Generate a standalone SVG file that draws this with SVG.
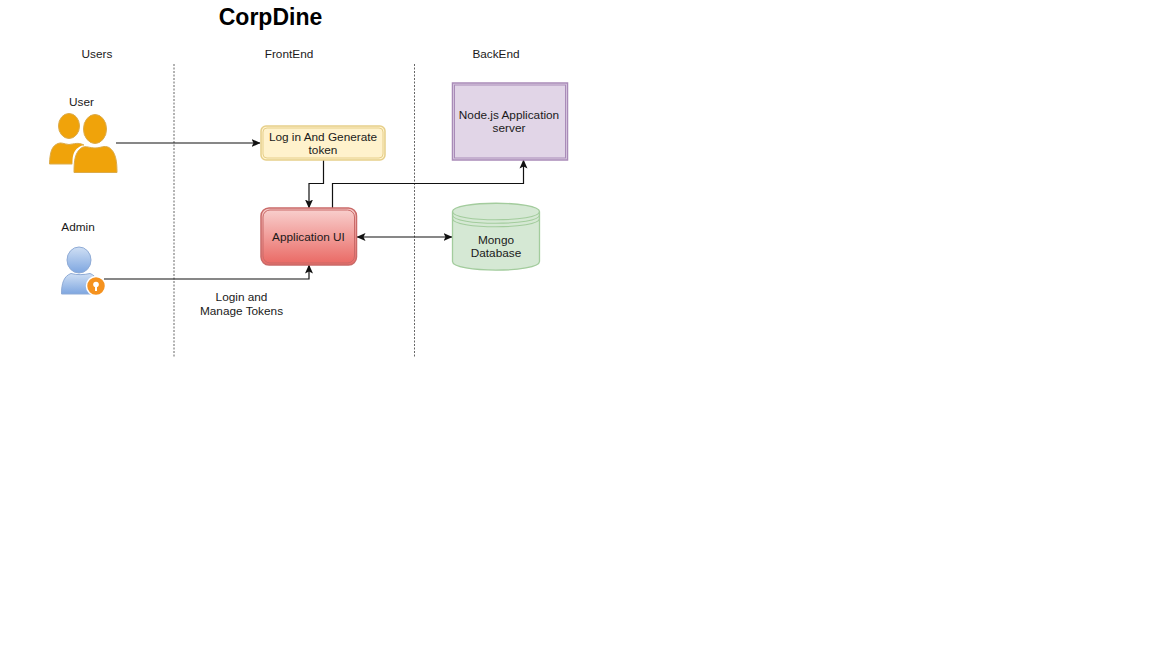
<svg xmlns="http://www.w3.org/2000/svg" width="1152" height="648" viewBox="0 0 1152 648">
<style>
text{font-family:"Liberation Sans",Arial,sans-serif;font-size:11.8px;fill:#1a1a1a;text-anchor:middle}
.title{font-size:23px;font-weight:bold;fill:#000}
.c{fill:none;stroke:#111;stroke-width:1.2}
.d{fill:none;stroke:#666;stroke-width:1;stroke-dasharray:2 1.5}
.u{fill:#f0a30a;stroke:#dcab4a;stroke-width:1}
</style>
<defs>
<marker id="a" viewBox="0 0 9 9" refX="8.500" refY="4.500" markerWidth="9" markerHeight="9" markerUnits="userSpaceOnUse" orient="auto-start-reverse"><path d="M0 0.500L9 4.500L0 8.500L2 4.500Z" fill="#111"/></marker>
<linearGradient id="r" x1="0" y1="0" x2="0" y2="1"><stop offset="0" stop-color="#f8cecc"/><stop offset="1" stop-color="#ea6b66"/></linearGradient>
<linearGradient id="b" x1="0" y1="0" x2="0" y2="1"><stop offset="0" stop-color="#cfdff4"/><stop offset="1" stop-color="#7ea6e0"/></linearGradient>
</defs>
<rect width="1152" height="648" fill="#fff"/>
<text class="title" x="270.500" y="24.500">CorpDine</text>
<text x="97" y="58">Users</text>
<text x="289" y="58">FrontEnd</text>
<text x="496" y="58">BackEnd</text>
<path class="d" d="M174 64V357M414.500 64V357"/>
<g id="connectors">
<path class="c" marker-end="url(#a)" d="M116 143H260"/>
<path class="c" marker-end="url(#a)" d="M323.500 160V183.500H309V208"/>
<path class="c" marker-end="url(#a)" d="M332.500 208V183.500H523.500V160"/>
<path class="c" marker-start="url(#a)" marker-end="url(#a)" d="M357 237H452"/>
<path class="c" marker-end="url(#a)" d="M104 279H309V265"/>
</g>
<text x="241.500" y="301">Login and</text>
<text x="241.500" y="315">Manage Tokens</text>
<g id="user">
<text x="81.500" y="106">User</text>
<ellipse class="u" cx="69" cy="126" rx="10.500" ry="12.500"/>
<path class="u" d="M49.500 164C50 151 52 146 58 143.500C61 142 64 144 69 144.500C74 144 78 142 84 145L76 151L72.500 164Z"/>
<ellipse class="u" cx="95" cy="129" rx="11.500" ry="14.500"/>
<path d="M72.500 174V160C73 152 76 148 82 145.500L96 147L110 145.500L118 150V174Z" fill="#fff" stroke="none"/>
<path class="u" d="M74 172.500C74 160 75 152 82 147.500C86 145.500 90 148 95 148C101 148 104 145 109 147.500C116 152 117 162 117 172.500Z"/>
</g>
<g id="admin">
<text x="78" y="231">Admin</text>
<ellipse cx="79" cy="260" rx="12" ry="13" fill="url(#b)" stroke="#8fabd6"/>
<path d="M61.500 294C61.500 283 64 276 71 273.500C76 275 84 275 90 273.500C97 276 99 283 99 294Z" fill="url(#b)" stroke="#8fabd6"/>
<circle cx="96" cy="286" r="9.500" fill="#f5921f" stroke="#fff" stroke-width="1.500"/>
<circle cx="96" cy="284.500" r="2.800" fill="#fff"/>
<rect x="95" y="285" width="2" height="6" fill="#fff"/>
</g>
<g id="login-token">
<rect x="261" y="126" width="124" height="34" rx="5" fill="#fff2cc" stroke="#e6cf8a" stroke-width="1.500"/>
<rect x="263" y="128" width="120" height="30" rx="4" fill="#fff2cc" stroke="#e6cf8a"/>
<text x="323" y="141">Log in And Generate</text>
<text x="323" y="154">token</text>
</g>
<g id="application-ui">
<rect x="261" y="208" width="95.500" height="57" rx="8" fill="url(#r)" stroke="#c96a68" stroke-width="1.500"/>
<rect x="263" y="210" width="91.500" height="53" rx="7" fill="url(#r)" stroke="#c96a68"/>
<text x="308.500" y="241">Application UI</text>
</g>
<g id="node-server">
<rect x="452.500" y="83" width="115" height="77" fill="#e1d5e7" stroke="#a98bb8" stroke-width="1.500"/>
<rect x="454.500" y="85" width="111" height="73" fill="#e1d5e7" stroke="#a98bb8"/>
<text x="509" y="119">Node.js Application</text>
<text x="509" y="132">server</text>
</g>
<g id="mongo">
<path d="M452.500 211.500C452.500 200.500 539.500 200.500 539.500 211.500V261.500C539.500 273 452.500 273 452.500 261.500Z" fill="#d5e8d4" stroke="#a3cc9d" stroke-width="1.300"/>
<path d="M452.500 211.500C452.500 222.500 539.500 222.500 539.500 211.500M452.500 215C452.500 226 539.500 226 539.500 215M452.500 218.500C452.500 229.500 539.500 229.500 539.500 218.500" fill="none" stroke="#a3cc9d" stroke-width="1.100"/>
<text x="496" y="244">Mongo</text>
<text x="496" y="257">Database</text>
</g>
</svg>
